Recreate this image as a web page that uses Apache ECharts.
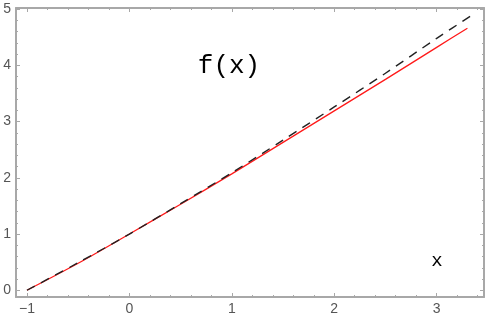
<!DOCTYPE html>
<html>
<head>
<meta charset="utf-8">
<script src="https://cdn.jsdelivr.net/npm/echarts@6/dist/echarts.min.js"></script>
<style>html,body{margin:0;padding:0;background:#fff}#c{width:485px;height:320px}</style>
</head>
<body>
<div id="c"></div>
<script>
// Data
const redX   = [-1, -0.5, 0, 0.5, 1, 1.5, 2, 2.5, 3, 3.3];
const redY   = [0, 0.48, 1, 1.53, 2.07, 2.63, 3.19, 3.75, 4.32, 4.66];
const dashX  = [-1, -0.5, 0, 0.5, 1, 1.5, 2, 2.5, 3, 3.35];
const dashY  = [0, 0.49, 1, 1.54, 2.09, 2.67, 3.26, 3.86, 4.48, 4.9];
const xMajor = [-1, 0, 1, 2, 3];
const xMinor = [-0.8, -0.6, -0.4, -0.2, 0.2, 0.4, 0.6, 0.8, 1.2, 1.4, 1.6, 1.8, 2.2, 2.4, 2.6, 2.8, 3.2, 3.4];
const yMajor = [0, 1, 2, 3, 4, 5];
const yMinor = [0.2, 0.4, 0.6, 0.8, 1.2, 1.4, 1.6, 1.8, 2.2, 2.4, 2.6, 2.8, 3.2, 3.4, 3.6, 3.8, 4.2, 4.4, 4.6, 4.8];
const titleText = 'f(x)';
const xLabelText = 'x';

const X_MIN = -1.107, X_MAX = 3.462, Y_MIN = -0.12, Y_MAX = 5.02;
const frameColor = '#a8a8a8';
const labelColor = '#555';

function pair(xs, ys) { return xs.map((x, i) => [x, ys[i]]); }
function fmt(v) { return v < 0 ? '\u2212' + Math.abs(v) : String(v); }

function axis(pos, major, isX, showLine, showLabel, tickValues, len) {
  return {
    type: 'value', position: pos,
    min: isX ? X_MIN : Y_MIN, max: isX ? X_MAX : Y_MAX,
    axisLine: { show: showLine, onZero: false, lineStyle: { color: frameColor, width: 2 } },
    axisTick: { show: true, inside: true, length: len, customValues: tickValues,
                lineStyle: { color: frameColor, width: 1 } },
    axisLabel: { show: showLabel, customValues: major, formatter: fmt,
                 color: labelColor, fontSize: 14, fontFamily: 'Liberation Sans, Arial, sans-serif',
                 margin: 5 },
    splitLine: { show: false }
  };
}

const chart = echarts.init(document.getElementById('c'), null, { renderer: 'canvas' });
chart.setOption({
  animation: false,
  backgroundColor: '#fff',
  grid: { left: 16, right: 1, top: 8, bottom: 23, containLabel: false },
  xAxis: [
    axis('bottom', xMajor, true, true, true, xMajor, 4),
    axis('bottom', xMajor, true, false, false, xMinor, 2),
    axis('top', xMajor, true, true, false, xMajor, 4),
    axis('top', xMajor, true, false, false, xMinor, 2)
  ],
  yAxis: [
    axis('left', yMajor, false, true, true, yMajor, 4),
    axis('left', yMajor, false, false, false, yMinor, 2),
    axis('right', yMajor, false, true, false, yMajor, 4),
    axis('right', yMajor, false, false, false, yMinor, 2)
  ],
  series: [
    { type: 'line', xAxisIndex: 0, yAxisIndex: 0, data: pair(redX, redY), smooth: 0.3,
      showSymbol: false, lineStyle: { color: '#ff1a1a', width: 1.3 } },
    { type: 'line', xAxisIndex: 0, yAxisIndex: 0, data: pair(dashX, dashY), smooth: 0.3,
      showSymbol: false, lineStyle: { color: '#222', width: 1.4, type: [9, 7] } }
  ],
  graphic: [
    { type: 'text', x: 229, y: 66, style: { text: titleText, fill: '#000',
      font: '26px "Liberation Mono", "Courier New", monospace', align: 'center', verticalAlign: 'middle' } },
    { type: 'text', x: 437, y: 261, style: { text: xLabelText, fill: '#000',
      font: '19px "Liberation Mono", "Courier New", monospace', align: 'center', verticalAlign: 'middle' } }
  ]
});
</script>
</body>
</html>
